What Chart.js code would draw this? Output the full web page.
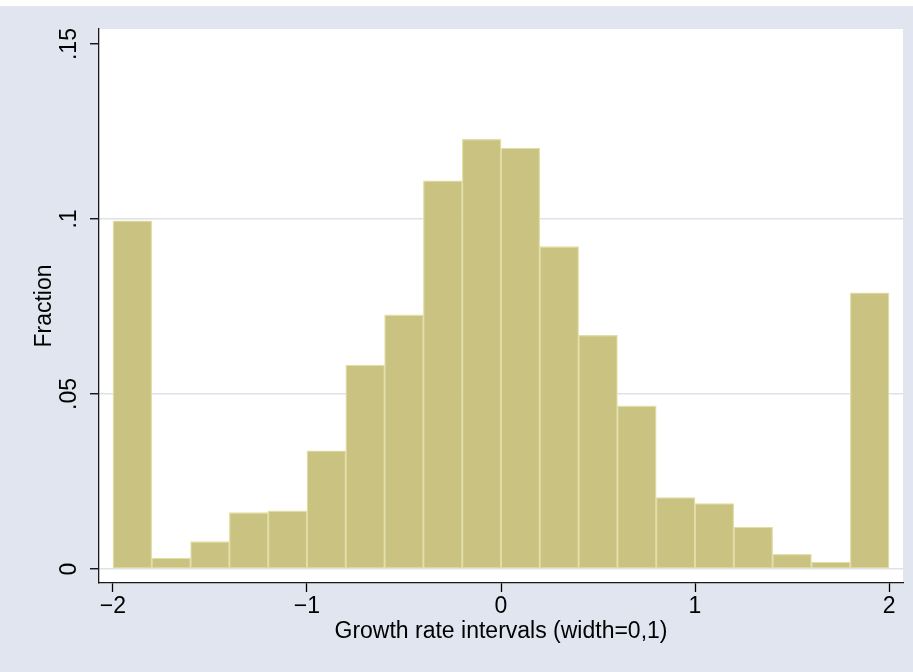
<!DOCTYPE html>
<html>
<head>
<meta charset="utf-8">
<script src="https://cdn.jsdelivr.net/npm/chart.js@4.4.1/dist/chart.umd.min.js"></script>
<style>
  html, body { margin: 0; padding: 0; background: #ffffff; }
  #wrap { width: 913px; height: 672px; }
</style>
</head>
<body>
<div id="wrap"><canvas id="hist" width="913" height="672"></canvas></div>
<script>
/* ── Data ── */
var binCenters = [-1.9, -1.7, -1.5, -1.3, -1.1, -0.9, -0.7, -0.5, -0.3, -0.1,
                  0.1, 0.3, 0.5, 0.7, 0.9, 1.1, 1.3, 1.5, 1.7, 1.9];
var fractions = [0.0995, 0.0031, 0.0078, 0.0161, 0.0166, 0.0338, 0.0583, 0.0726, 0.1109, 0.1228,
                 0.1203, 0.0921, 0.0668, 0.0466, 0.0204, 0.0187, 0.0120, 0.0042, 0.0020, 0.0789];
var xTicks = [-2, -1, 0, 1, 2];
var xTickLabels = ['\u22122', '\u22121', '0', '1', '2'];
var yTicks = [0, 0.05, 0.1, 0.15];
var yTickLabels = ['0', '.05', '.1', '.15'];
var xTitle = 'Growth rate intervals (width=0,1)';
var yTitle = 'Fraction';

var FONT = '"Liberation Sans", Arial, sans-serif';
var BG = '#e1e5ef';

/* ── Background: bluish-gray graph region, white plot region ── */
var backgroundPlugin = {
  id: 'stataBackground',
  beforeDraw: function(chart) {
    var ctx = chart.ctx, a = chart.chartArea;
    ctx.save();
    ctx.fillStyle = '#ffffff';
    ctx.fillRect(0, 0, chart.width, chart.height);
    ctx.fillStyle = BG;
    ctx.fillRect(0, 6, chart.width, chart.height - 6);
    ctx.fillStyle = '#ffffff';
    ctx.fillRect(a.left, a.top, a.right - a.left, a.bottom - a.top);
    ctx.restore();
  }
};

/* ── Vertical y tick labels (Stata style) ── */
var yLabelPlugin = {
  id: 'yTickLabels',
  afterDraw: function(chart) {
    var ctx = chart.ctx, y = chart.scales.y;
    ctx.save();
    ctx.fillStyle = '#000000';
    ctx.font = '23px ' + FONT;
    ctx.textAlign = 'center';
    ctx.textBaseline = 'middle';
    yTicks.forEach(function(v, i) {
      ctx.save();
      ctx.translate(70, y.getPixelForValue(v));
      ctx.rotate(-Math.PI / 2);
      ctx.fillText(yTickLabels[i], 0, 0);
      ctx.restore();
    });
    ctx.restore();
  }
};

var points = binCenters.map(function(c, i) { return { x: c, y: fractions[i] }; });

new Chart(document.getElementById('hist'), {
  type: 'bar',
  data: {
    datasets: [{
      data: points,
      backgroundColor: '#c9c280',
      borderColor: '#e2dea9',
      borderWidth: 1.3,
      borderSkipped: false,
      barPercentage: 1,
      categoryPercentage: 1
    }]
  },
  options: {
    responsive: false,
    animation: false,
    events: [],
    layout: { padding: { top: 29, right: 10, left: 0, bottom: 0 } },
    plugins: {
      legend: { display: false },
      tooltip: { enabled: false }
    },
    scales: {
      x: {
        type: 'linear',
        offset: false,
        min: -2.072,
        max: 2.072,
        afterBuildTicks: function(scale) {
          scale.ticks = xTicks.map(function(v) { return { value: v }; });
        },
        afterFit: function(scale) { scale.height = 89; },
        ticks: {
          autoSkip: false,
          maxRotation: 0,
          padding: 1,
          color: '#000000',
          font: { family: FONT, size: 23 },
          callback: function(v) {
            var i = xTicks.indexOf(v);
            return i >= 0 ? xTickLabels[i] : '';
          }
        },
        grid: {
          offset: false,
          drawOnChartArea: false,
          tickLength: 9,
          tickColor: '#000000',
          tickWidth: 1.3
        },
        border: { display: true, color: '#1a1a1a', width: 1.3 },
        title: {
          display: true,
          text: xTitle,
          color: '#000000',
          font: { family: FONT, size: 23 },
          padding: { top: 0, bottom: 27 }
        }
      },
      y: {
        type: 'linear',
        min: -0.004,
        max: 0.1543,
        afterBuildTicks: function(scale) {
          scale.ticks = yTicks.map(function(v) { return { value: v }; });
        },
        afterFit: function(scale) { scale.width = 99; },
        ticks: { display: false },
        grid: {
          color: function(ctx) {
            return ctx.tick && ctx.tick.value >= 0.15 ? 'rgba(0,0,0,0)' : '#dde2ee';
          },
          lineWidth: 1.5,
          tickLength: 9,
          tickColor: '#000000',
          tickWidth: 1.3
        },
        border: { display: true, color: '#1a1a1a', width: 1.3 },
        title: {
          display: true,
          text: yTitle,
          color: '#000000',
          font: { family: FONT, size: 23 },
          padding: { top: 31, bottom: 0 }
        }
      }
    }
  },
  plugins: [backgroundPlugin, yLabelPlugin]
});
</script>
</body>
</html>
